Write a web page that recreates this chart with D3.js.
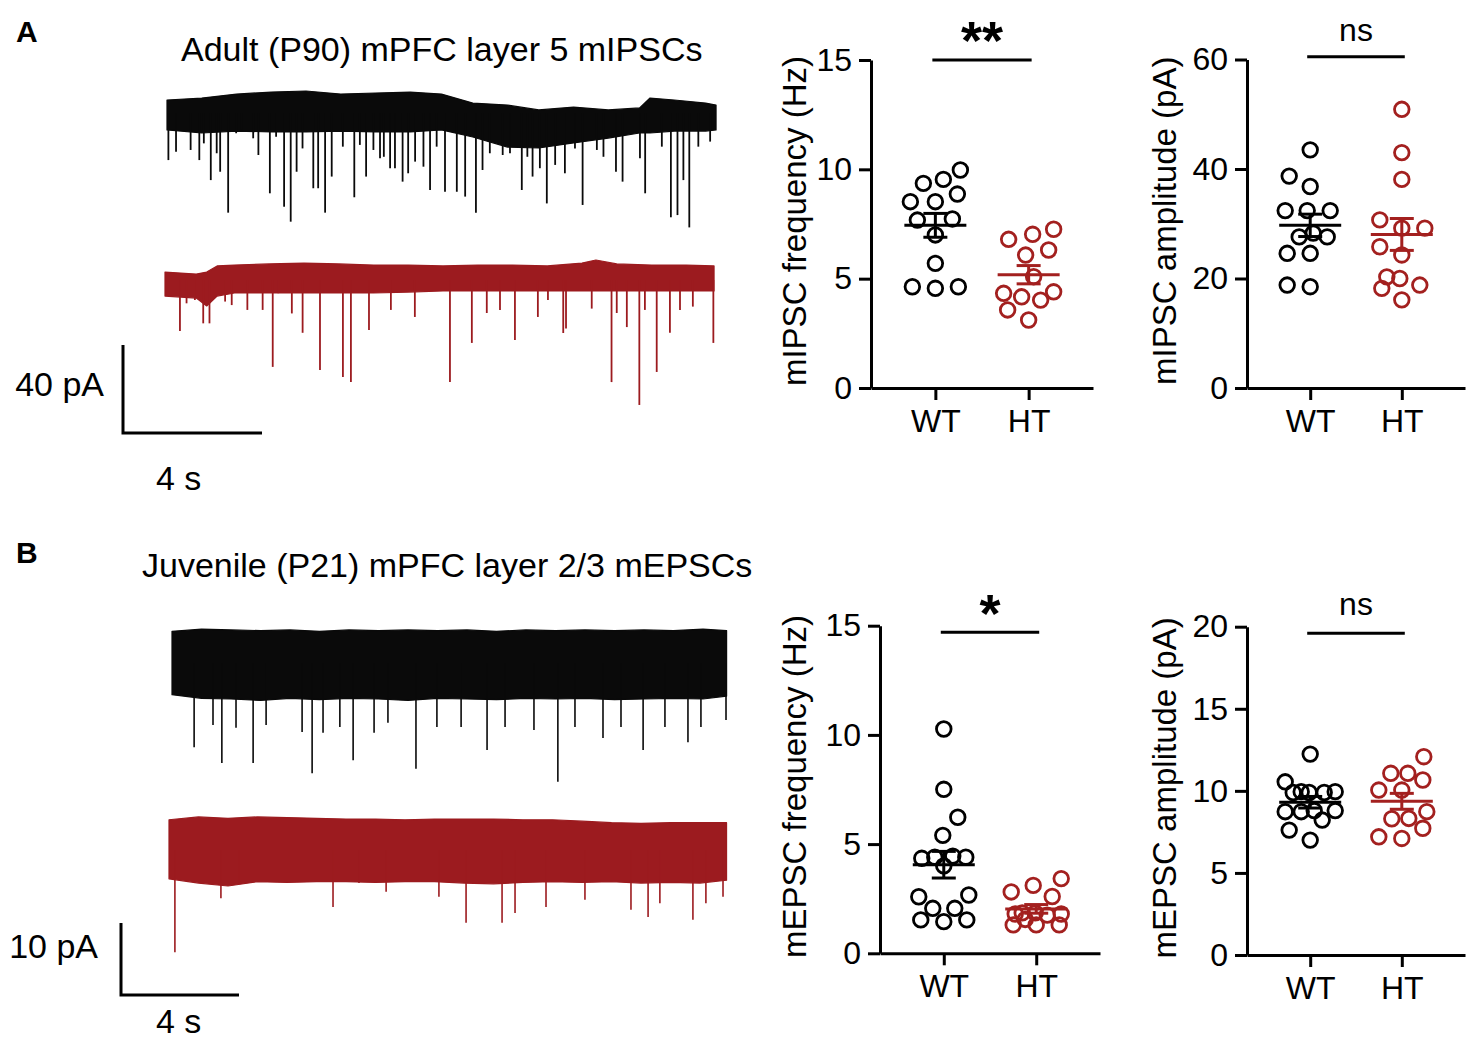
<!DOCTYPE html>
<html><head><meta charset="utf-8">
<script src="https://cdn.jsdelivr.net/npm/d3@7"></script>
<style>
body{margin:0;background:#fff}
svg{display:block}
text{font-family:"Liberation Sans",Arial,Helvetica,sans-serif}
</style>
</head><body>
<svg id="fig" width="1477" height="1041"></svg>
<script>
// ---------------- DATA ----------------
const groups = ["WT", "HT"];

// Panel A: adult mIPSCs
const aFreqWT = [9.36, 9.54, 9.97, 8.52, 8.52, 8.87, 7.73, 7.68, 7.0, 5.70, 4.56, 4.63, 4.63];
const aFreqHT = [7.26, 6.80, 7.03, 6.31, 6.08, 5.09, 4.33, 4.17, 4.40, 4.02, 3.57, 3.11];
const aAmpWT  = [43.5, 36.8, 38.7, 32.4, 32.4, 32.4, 28.3, 27.6, 27.6, 24.6, 24.6, 18.5, 18.8];
const aAmpHT  = [50.9, 43.0, 38.1, 30.7, 29.2, 29.2, 25.8, 24.3, 18.8, 20.3, 20.0, 18.2, 16.1];
// Panel B: juvenile mEPSCs
const bFreqWT = [10.27, 7.51, 6.23, 5.4, 4.45, 4.4, 4.4, 4.35, 4.0, 2.67, 2.59, 2.06, 2.06, 1.53, 1.53, 1.45];
const bFreqHT = [3.42, 3.11, 2.81, 2.6, 1.85, 1.85, 1.8, 1.8, 1.75, 1.55, 1.3, 1.3, 1.3];
const bAmpWT  = [12.24, 10.55, 9.95, 9.9, 9.9, 9.9, 9.95, 8.73, 8.8, 8.8, 8.73, 8.22, 7.61, 7.0];
const bAmpHT  = [12.08, 11.07, 11.07, 10.66, 10.05, 10.05, 8.73, 8.32, 8.3, 7.72, 7.1, 7.2];

const ticksFreq = [0, 5, 10, 15];
const ticksAmpA = [0, 20, 40, 60];
const ticksAmpB = [0, 5, 10, 15, 20];
const axisTitles = ["mIPSC frequency (Hz)", "mIPSC amplitude (pA)", "mEPSC frequency (Hz)", "mEPSC amplitude (pA)"];
const sigLabels = ["**", "ns", "*", "ns"];
const sigLevels = [15, 60.5, 14.7, 19.6];
const panelTitles = ["Adult (P90) mPFC layer 5 mIPSCs", "Juvenile (P21) mPFC layer 2/3 mEPSCs"];
const panelLetters = ["A", "B"];

// Example traces: noise-band envelope [time s, upper pA, lower pA] and events [time s, amplitude pA]
const envA_WT = [[0,5.9,-7.7],[1,6.8,-9.1],[2,8.6,-8.2],[3,9.5,-8.6],[4,10,-8.6],[5,8.6,-8.2],[6,9.1,-8.6],[7,9.5,-8.6],[7.9,8.6,-7.7],[8.8,4.5,-10.9],[9.8,3.6,-15.5],[10.7,1.4,-15.9],[11.7,2.7,-13.6],[12.7,1.4,-11.4],[13.6,2.3,-9.1],[13.9,6.8,-9.1],[14.6,5.9,-8.2],[15.5,4.5,-8.2],[15.8,3.6,-7.7]];
const evA_WT = [[0.04,21.4],[0.26,17.6],[0.68,16.8],[0.93,21.4],[1.06,13.8],[1.26,30.5],[1.43,18.3],[1.53,26.7],[1.76,45.3],[1.99,9.2],[2.15,7.7],[2.48,11.5],[2.63,19.1],[2.96,36.5],[3.14,10.8],[3.37,42.6],[3.56,49.4],[3.73,26.7],[3.90,16.1],[4.21,34.2],[4.35,34.2],[4.55,45.3],[4.74,28.9],[5.06,15.3],[5.39,38.3],[5.55,14.5],[5.73,28.9],[5.94,16.8],[6.13,20.6],[6.24,19.9],[6.42,25.1],[6.56,25.1],[6.78,31.2],[6.94,27.4],[7.14,22.1],[7.38,24.4],[7.57,35.0],[7.76,15.3],[8.00,35.8],[8.34,35.8],[8.58,38.0],[8.89,45.3],[9.08,25.9],[9.29,18.3],[9.66,19.1],[9.87,18.3],[10.21,35.0],[10.37,19.9],[10.52,28.9],[10.73,25.1],[10.93,41.1],[11.17,23.6],[11.45,27.4],[11.74,16.1],[11.96,41.8],[12.37,16.8],[12.56,19.9],[12.92,26.7],[13.11,31.2],[13.61,20.6],[13.76,36.5],[14.24,15.3],[14.50,47.4],[14.69,46.4],[14.86,30.5],[15.03,52.0],[15.29,15.3],[15.63,13.0]];
const envA_HT = [[0,3.6,-7.3],[0.9,2.7,-8.2],[1.2,3.6,-11.8],[1.5,6.4,-7.3],[2,6.8,-5.9],[3,7.3,-5.9],[4,7.7,-5.9],[5,7.3,-5.9],[6,6.8,-5.9],[7,6.8,-5.5],[8,6.4,-5.0],[9,6.8,-5.0],[10,6.8,-5.0],[11,6.4,-5.0],[12,7.7,-5.0],[12.4,9.1,-5.0],[13,7.3,-5.0],[14,6.8,-5.0],[15,6.8,-5.0],[15.8,6.4,-5.0]];
const evA_HT = [[0.43,23.2],[0.62,10.6],[0.86,9.1],[1.10,19.7],[1.28,19.7],[1.73,9.8],[1.92,11.4],[2.37,13.6],[2.81,13.6],[3.10,39.5],[3.26,6.0],[3.65,15.2],[3.96,24.0],[4.46,40.9],[5.12,44.1],[5.35,46.4],[5.87,22.7],[6.50,13.6],[7.19,16.8],[8.20,46.4],[8.83,28.6],[9.26,15.0],[9.64,13.6],[10.07,27.3],[10.73,16.8],[11.02,9.1],[11.46,24.1],[11.54,22.0],[12.28,13.0],[12.85,46.4],[13.0,15.0],[13.29,21.4],[13.65,56.8],[13.81,13.6],[14.15,41.8],[14.53,24.0],[14.82,13.6],[15.19,12.1],[15.78,28.6]];
const envB_WT = [[0,4.4,-4.4],[1,4.7,-4.9],[2,4.6,-5.0],[3,4.5,-5.2],[4,4.6,-4.9],[5,4.4,-5.1],[6,4.6,-4.9],[7,4.5,-5.0],[8,4.6,-5.2],[9,4.5,-4.9],[10,4.6,-5.0],[11,4.4,-5.1],[12,4.6,-4.9],[13,4.5,-5.0],[14,4.6,-4.9],[15,4.5,-5.1],[16,4.6,-5.0],[17,4.5,-4.9],[18,4.7,-5.0],[18.8,4.5,-4.6]];
const evB_WT = [[0.75,11.7],[1.39,8.6],[1.69,13.9],[2.17,9.0],[2.75,13.9],[3.19,8.6],[4.41,9.6],[4.75,15.3],[5.12,9.7],[5.69,8.9],[6.14,13.5],[6.85,9.7],[7.32,8.3],[8.27,14.7],[8.98,8.9],[9.80,8.9],[10.68,12.1],[11.29,8.9],[12.27,9.3],[13.08,16.5],[13.66,8.9],[14.61,10.4],[15.22,8.9],[15.97,12.1],[16.71,8.9],[17.49,11.0],[17.93,8.9],[18.78,7.9]];
const envB_HT = [[0,4.2,-4.0],[1,4.6,-4.6],[2,4.4,-5.0],[3,4.6,-4.4],[4,4.5,-4.5],[5,4.4,-4.4],[6,4.3,-4.4],[7,4.3,-4.5],[8,4.2,-4.4],[9,4.3,-4.4],[10,4.3,-4.6],[11,4.3,-4.7],[12,4.2,-4.5],[13,4.2,-4.4],[14,4.0,-4.5],[15,3.8,-4.4],[16,3.7,-4.6],[17,3.8,-4.5],[18,3.8,-4.6],[18.9,3.8,-4.2]];
const evB_HT = [[0.20,14.2],[1.76,6.7],[2.37,4.6],[5.56,7.9],[6.44,4.6],[7.36,5.8],[9.15,6.5],[10.07,10.1],[11.29,10.1],[11.73,8.75],[12.78,7.9],[14.10,6.9],[15.66,8.3],[16.24,9.3],[16.64,7.4],[17.76,9.7],[18.20,7.4],[18.78,6.5]];
const scaleBarA = [40, 4]; // pA, s
const scaleBarB = [10, 4];

// ---------------- DRAWING ----------------
const BLACK = "#000000";
const RED = "#a3201f";
const TRACE_RED = "#9c1b1f";
const svg = d3.select("#fig");
const FONT = '"Liberation Sans",Arial,Helvetica,sans-serif';

svg.append("text").attr("x", 16).attr("y", 42).attr("font-size", 30).attr("font-weight", "bold").text(panelLetters[0]);
svg.append("text").attr("x", 16).attr("y", 563).attr("font-size", 30).attr("font-weight", "bold").text(panelLetters[1]);
svg.append("text").attr("x", 181).attr("y", 61).attr("font-size", 34).text(panelTitles[0]);
svg.append("text").attr("x", 142).attr("y", 577).attr("font-size", 34).text(panelTitles[1]);

function drawTrace(env, events, x0, base, pxPerS, pxPerPA, color, w) {
  const x = d3.scaleLinear().domain([0, 1]).range([x0, x0 + pxPerS]);
  const y = d3.scaleLinear().domain([0, 1]).range([base, base - pxPerPA]);
  const area = d3.area().x(d => x(d[0])).y0(d => y(d[2])).y1(d => y(d[1]));
  svg.append("path").datum(env).attr("d", area).attr("fill", color)
     .attr("stroke", color).attr("stroke-width", 1.2).attr("stroke-linejoin", "round");
  svg.append("g").selectAll("line").data(events).join("line")
     .attr("x1", d => x(d[0])).attr("x2", d => x(d[0]))
     .attr("y1", y(0)).attr("y2", d => y(-d[1]))
     .attr("stroke", color).attr("stroke-width", w);
}
drawTrace(envA_WT, evA_WT, 167, 113, 34.75, 2.2, "#0a0a0a", 1.8);
drawTrace(envA_HT, evA_HT, 165, 280, 34.75, 2.2, TRACE_RED, 1.8);
drawTrace(envB_WT, evB_WT, 172, 663, 29.5, 7.2, "#0a0a0a", 1.6);
drawTrace(envB_HT, evB_HT, 169, 850, 29.5, 7.2, TRACE_RED, 1.6);

function scaleBar(vals, cx, cy, pxPerS, pxPerPA, labA, labS) {
  const ys = d3.scaleLinear().domain([0, 1]).range([cy, cy - pxPerPA]);
  const xs = d3.scaleLinear().domain([0, 1]).range([cx, cx + pxPerS]);
  const p = d3.path();
  p.moveTo(cx, ys(vals[0])); p.lineTo(cx, cy); p.lineTo(xs(vals[1]), cy);
  svg.append("path").attr("d", p.toString()).attr("fill", "none").attr("stroke", BLACK).attr("stroke-width", 3);
  svg.append("text").attr("x", labA[0]).attr("y", labA[1]).attr("font-size", 34).attr("text-anchor", "end").text(vals[0] + " pA");
  svg.append("text").attr("x", labS[0]).attr("y", labS[1]).attr("font-size", 34).text(vals[1] + " s");
}
scaleBar(scaleBarA, 123, 433, 34.75, 2.2, [104, 396], [156, 490]);
scaleBar(scaleBarB, 121, 995, 29.5, 7.2, [98, 958], [156, 1033]);

// compact swarm (column-scatter) layout
function swarm(values, y, D, maxOff) {
  const idx = values.map((v, i) => i).sort((a, b) => values[a] - values[b]);
  const placed = [];
  const off = new Array(values.length).fill(0);
  const cands = [0];
  for (let k = 1; k <= maxOff; k++) { cands.push(-k, k); }
  for (const i of idx) {
    const yy = y(values[i]);
    let best = null, bestScore = -1;
    for (const o of cands) {
      const md = placed.length ? d3.min(placed, p => Math.hypot(p[0] - o, p[1] - yy)) : Infinity;
      if (md >= D) { best = o; break; }
      if (md > bestScore + 0.01) { bestScore = md; best = o; }
    }
    off[i] = best; placed.push([best, yy]);
  }
  return off;
}

function scatter(cfg) {
  const y = d3.scaleLinear().domain([0, cfg.max]).range([cfg.bottom, cfg.top]);
  const x = d3.scalePoint().domain(groups).range([cfg.axisX, cfg.right]).padding(0.69);
  const gy = svg.append("g").attr("transform", `translate(${cfg.axisX},0)`)
    .call(d3.axisLeft(y).tickValues(cfg.ticks).tickSize(12).tickPadding(7).tickSizeOuter(0));
  const gx = svg.append("g").attr("transform", `translate(0,${cfg.bottom})`)
    .call(d3.axisBottom(x).tickSize(12).tickPadding(9).tickSizeOuter(0));
  [gy, gx].forEach(g => {
    g.attr("font-family", FONT).attr("font-size", 32);
    g.selectAll("path,line").attr("stroke", BLACK).attr("stroke-width", 3);
    g.selectAll("text").attr("fill", BLACK);
  });
  svg.append("text").attr("transform", `translate(${cfg.titleX},${(cfg.top + cfg.bottom) / 2 - 3}) rotate(-90)`)
    .attr("text-anchor", "middle").attr("font-size", 33).text(cfg.title);
  [[cfg.wt, "WT", BLACK], [cfg.ht, "HT", RED]].forEach(([vals, g, col]) => {
    const off = swarm(vals, y, 23, 25);
    const cx = x(g);
    svg.append("g").selectAll("circle").data(vals).join("circle")
      .attr("cx", (d, i) => cx + off[i]).attr("cy", d => y(d)).attr("r", 7.3)
      .attr("fill", "none").attr("stroke", col).attr("stroke-width", 2.8);
    const m = d3.mean(vals), sem = d3.deviation(vals) / Math.sqrt(vals.length);
    const gg = svg.append("g").attr("stroke", col).attr("stroke-width", 3);
    gg.append("line").attr("x1", cx - 31).attr("x2", cx + 31).attr("y1", y(m)).attr("y2", y(m));
    gg.append("line").attr("x1", cx).attr("x2", cx).attr("y1", y(m - sem)).attr("y2", y(m + sem));
    gg.append("line").attr("x1", cx - 12).attr("x2", cx + 12).attr("y1", y(m + sem)).attr("y2", y(m + sem));
    gg.append("line").attr("x1", cx - 12).attr("x2", cx + 12).attr("y1", y(m - sem)).attr("y2", y(m - sem));
  });
  const ys = y(cfg.sigLevel);
  svg.append("line").attr("x1", x("WT") - 3).attr("x2", x("HT") + 3).attr("y1", ys).attr("y2", ys)
    .attr("stroke", BLACK).attr("stroke-width", 3);
  const star = cfg.sig.indexOf("*") >= 0;
  svg.append("text").attr("x", (x("WT") + x("HT")) / 2).attr("y", cfg.sigY)
    .attr("text-anchor", "middle").attr("font-size", star ? 54 : 32).attr("font-weight", star ? "bold" : "normal")
    .text(cfg.sig);
}

scatter({axisX: 871, top: 60, bottom: 388, right: 1093, max: 15, ticks: ticksFreq, wt: aFreqWT, ht: aFreqHT,
  title: axisTitles[0], titleX: 806, sig: sigLabels[0], sigLevel: sigLevels[0], sigY: 59});
scatter({axisX: 1247, top: 59.5, bottom: 388, right: 1465, max: 60, ticks: ticksAmpA, wt: aAmpWT, ht: aAmpHT,
  title: axisTitles[1], titleX: 1176, sig: sigLabels[1], sigLevel: sigLevels[1], sigY: 41});
scatter({axisX: 880, top: 625.7, bottom: 953.3, right: 1100, max: 15, ticks: ticksFreq, wt: bFreqWT, ht: bFreqHT,
  title: axisTitles[2], titleX: 806, sig: sigLabels[2], sigLevel: sigLevels[2], sigY: 632});
scatter({axisX: 1247, top: 626.7, bottom: 955, right: 1465, max: 20, ticks: ticksAmpB, wt: bAmpWT, ht: bAmpHT,
  title: axisTitles[3], titleX: 1176, sig: sigLabels[3], sigLevel: sigLevels[3], sigY: 615});
</script>
</body></html>
